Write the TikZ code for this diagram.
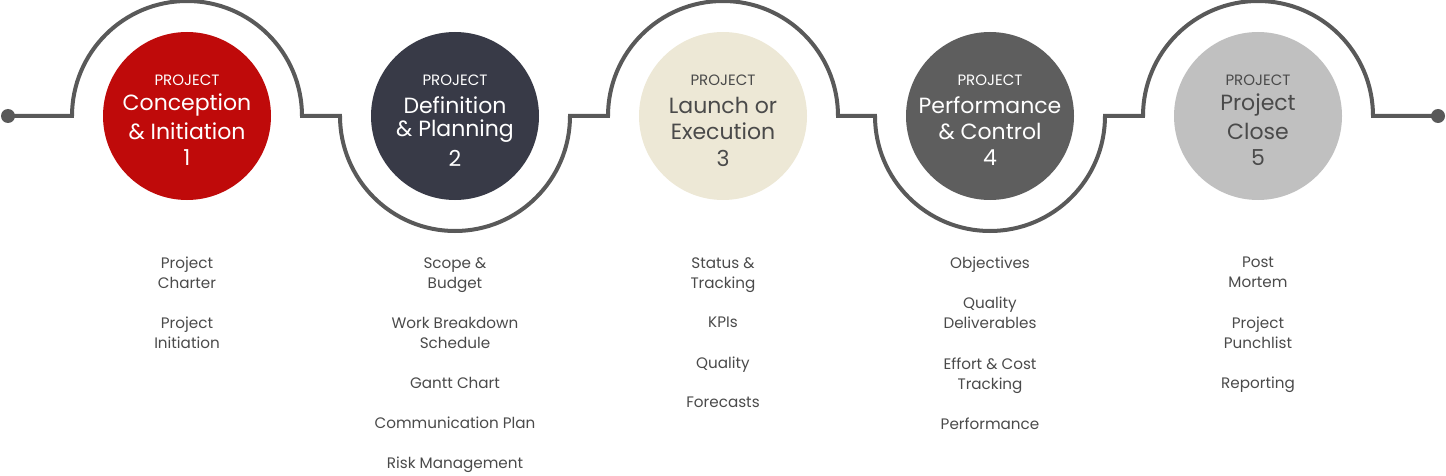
\documentclass[tikz,border=0pt]{standalone}
\usepackage{fontspec}
\setmainfont{Poppins}
\definecolor{lineg}{HTML}{595959}
\definecolor{cred}{HTML}{BF0A0A}
\definecolor{cdark}{HTML}{383A47}
\definecolor{ccream}{HTML}{EDE8D6}
\definecolor{cgray}{HTML}{5E5E5E}
\definecolor{clight}{HTML}{C0C0C0}
\definecolor{txt}{HTML}{4A4A4A}
\begin{document}
\begin{tikzpicture}[x=0.5pt,y=-0.5pt,
  stage/.style={circle,minimum size=84pt,inner sep=0pt},
  ttl/.style={font=\fontsize{11}{13}\selectfont,align=center,inner sep=0pt},
  pj/.style={font=\fontsize{7.5}{9}\selectfont,inner sep=0pt},
  item/.style={font=\fontsize{7.6}{10}\selectfont,align=center,text=txt,inner sep=0pt,anchor=north}]
\useasboundingbox (0,0) rectangle (1446,476);
\coordinate (dl) at (8,116);
\coordinate (dr) at (1438,116);
\draw[lineg,line width=2pt] (dl) -- (72,116) arc(180:360:115) -- (340,116) arc(180:0:115)
  -- (608,116) arc(180:360:115) -- (875,116) arc(180:0:115) -- (1143,116) arc(180:360:115) -- (dr);
\fill[lineg] (dl) circle (7) (dr) circle (7);
\def\stg#1#2#3#4#5#6{%
  \node[stage,fill=#3] (c#1) at (#2,116) {};
  \node[pj,text=#4] at (#2,80) {PROJECT};
  \node[ttl,text=#4] at (#2,105) {#5};
  \node[ttl,text=#4] at (#2,131) {#6};
  \node[ttl,text=#4] at (#2,158) {#1};}
\stg{1}{187}{cred}{white}{Conception}{\& Initiation}
\stg{2}{455}{cdark}{white}{Definition}{\& Planning}
\stg{3}{723}{ccream}{txt}{Launch or}{Execution}
\stg{4}{990}{cgray}{white}{Performance}{\& Control}
\stg{5}{1258}{clight}{txt}{Project}{Close}
\node[item] (l1a) at (187,257) {Project\\Charter};
\node[item] (l1b) at (187,317) {Project\\Initiation};
\node[item] (l2a) at (455,257) {Scope \&\\Budget};
\node[item] (l2b) at (455,317) {Work Breakdown\\Schedule};
\node[item] (l2c) at (455,377) {Gantt Chart};
\node[item] (l2d) at (455,417) {Communication Plan};
\node[item] (l2e) at (455,457) {Risk Management};
\node[item] (l3a) at (723,257) {Status \&\\Tracking};
\node[item] (l3b) at (723,317) {KPIs};
\node[item] (l3c) at (723,357) {Quality};
\node[item] (l3d) at (723,397) {Forecasts};
\node[item] (l4a) at (990,257) {Objectives};
\node[item] (l4b) at (990,297) {Quality\\Deliverables};
\node[item] (l4c) at (990,357) {Effort \& Cost\\Tracking};
\node[item] (l4d) at (990,417) {Performance};
\node[item] (l5a) at (1258,257) {Post\\Mortem};
\node[item] (l5b) at (1258,317) {Project\\Punchlist};
\node[item] (l5c) at (1258,377) {Reporting};
\end{tikzpicture}
\end{document}
